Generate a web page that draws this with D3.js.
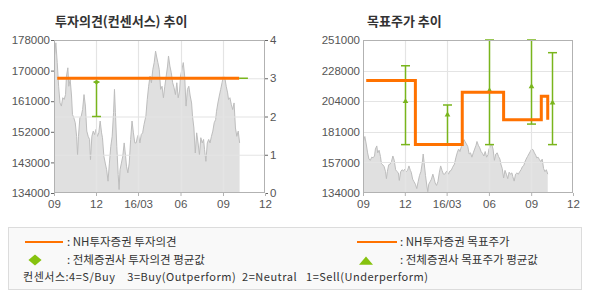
<!DOCTYPE html>
<html><head><meta charset="utf-8">
<script src="https://cdn.jsdelivr.net/npm/d3@7"></script>
<style>body{margin:0;background:#fff} svg{display:block}</style>
</head><body>
<svg id="c" width="590" height="300"></svg>
<script>
// ---------- DATA ----------
const priceDates = ["2015-09-01","2015-09-02","2015-09-05","2015-09-08","2015-09-11","2015-09-14","2015-09-17","2015-09-20","2015-09-23","2015-09-26","2015-09-28","2015-10-01","2015-10-03","2015-10-06","2015-10-09","2015-10-11","2015-10-14","2015-10-17","2015-10-20","2015-10-22","2015-10-24","2015-10-27","2015-10-30","2015-11-02","2015-11-05","2015-11-08","2015-11-11","2015-11-14","2015-11-17","2015-11-19","2015-11-22","2015-11-25","2015-11-28","2015-12-01","2015-12-04","2015-12-07","2015-12-10","2015-12-13","2015-12-15","2015-12-18","2015-12-21","2015-12-24","2015-12-27","2015-12-30","2016-01-02","2016-01-05","2016-01-08","2016-01-10","2016-01-12","2016-01-15","2016-01-18","2016-01-20","2016-01-22","2016-01-25","2016-01-28","2016-01-31","2016-02-03","2016-02-05","2016-02-08","2016-02-11","2016-02-14","2016-02-17","2016-02-20","2016-02-23","2016-02-26","2016-02-29","2016-03-02","2016-03-05","2016-03-08","2016-03-11","2016-03-14","2016-03-18","2016-03-21","2016-03-24","2016-03-27","2016-03-30","2016-04-02","2016-04-05","2016-04-08","2016-04-10","2016-04-13","2016-04-16","2016-04-19","2016-04-22","2016-04-25","2016-04-28","2016-05-01","2016-05-04","2016-05-06","2016-05-09","2016-05-12","2016-05-15","2016-05-18","2016-05-21","2016-05-24","2016-05-27","2016-05-30","2016-06-01","2016-06-04","2016-06-07","2016-06-10","2016-06-13","2016-06-16","2016-06-19","2016-06-22","2016-06-25","2016-06-27","2016-06-30","2016-07-03","2016-07-06","2016-07-09","2016-07-12","2016-07-15","2016-07-18","2016-07-21","2016-07-23","2016-07-26","2016-07-29","2016-08-01","2016-08-04","2016-08-07","2016-08-10","2016-08-13","2016-08-16","2016-08-18","2016-08-21","2016-08-24","2016-08-27","2016-08-30","2016-09-02","2016-09-05","2016-09-08","2016-09-11","2016-09-13","2016-09-16","2016-09-19","2016-09-22","2016-09-25","2016-09-28","2016-10-01","2016-10-04","2016-10-07"];
const prices = [173400,173400,177200,171500,164700,159900,159000,161400,160900,162300,167600,170000,164700,166700,161900,156600,155600,154200,150300,145000,150300,155600,156100,158000,162300,159000,151800,150300,149400,143600,150300,151800,150800,152300,150300,151300,154700,151300,149900,144600,142600,140700,137400,142600,147400,150300,157100,163800,157100,147400,139300,135000,140700,142600,144600,148400,144600,141700,139800,142600,149400,154700,151300,148400,148400,150300,150800,148400,150800,151300,153700,156100,160900,164700,167600,165700,169500,171500,174800,173400,171500,169500,163800,164700,161400,164700,167600,170500,173400,170500,168600,165700,164300,162300,165700,161400,163300,167600,169500,171500,167600,159000,163800,164700,161900,159900,156100,152700,145500,151300,148400,145000,149900,148400,149400,146500,143100,148400,149400,148400,150300,151800,154200,155100,157500,159900,161900,163800,165700,167600,167100,164700,162800,160900,161400,159500,158000,159900,152700,150300,151800,148400];

// NH opinion (left chart)
const opinionDates = ["2015-09-08","2016-10-06"];
const opinionValues = [3,3];
// consensus opinion continuation line
const consLineDates = ["2016-10-06","2016-10-25"];
const consLineValues = [3,3];
// consensus opinion range / average
const consOpDates = ["2015-12-01"];
const consOpMax = [2.9];
const consOpMin = [2];
const consOpAvg = [2.9];

// NH target price (right chart, step)
const targetDates = ["2015-09-08","2015-12-24","2016-04-04","2016-07-03","2016-09-23","2016-10-07"];
const targetValues = [220000,171000,211000,190000,208000,190000];
// consensus target price
const consTpDates = ["2015-12-01","2016-03-01","2016-06-01","2016-09-01","2016-10-16"];
const consTpMax = [231300,201300,251000,251000,241300];
const consTpMin = [171000,171000,171000,186700,171000];
const consTpAvg = [204000,193800,212300,215400,203000];

// ticks
const xTickDates = ["2015-09-01","2015-12-01","2016-03-01","2016-06-01","2016-09-01","2016-12-01"];
const xTickLabels = ["09","12","16/03","06","09","12"];
const leftPriceTickValues = [134000,142800,151600,160400,169200,178000];
const leftPriceTickLabels = ["134000","143000","152000","161000","170000","178000"];
const opinionTickValues = [0,1,2,3,4];
const rightTickValues = [134000,157400,180800,204200,227600,251000];
const rightTickLabels = ["134000","157000","181000","204000","228000","251000"];

// ---------- DRAW ----------
const parse = d3.timeParse("%Y-%m-%d");
const svg = d3.select("#c");
const ORANGE = "#ff7200", GREEN = "#79b51c", GRID = "#e4e4e4", BORDER = "#b2b2b2", LABEL = "#555";
const FONT = "'Liberation Sans', Arial, sans-serif";
const KFONT = "'Noto Sans CJK KR', 'Noto Sans', sans-serif";

const priceData = priceDates.map((d,i)=>({date:parse(d), v:prices[i]}));
const xDomain = [parse(xTickDates[0]), parse(xTickDates[xTickDates.length-1])];

function xAxis(g, x, H) {
  const ax = d3.axisBottom(x).tickValues(xTickDates.map(parse)).tickFormat((d,i)=>xTickLabels[i]).tickSize(3).tickPadding(4);
  const a = g.append("g").attr("transform",`translate(0,${H})`).call(ax);
  a.select(".domain").remove();
  a.selectAll("line").attr("stroke",BORDER);
  a.selectAll("text").attr("font-family",FONT).attr("font-size",11.5).attr("fill",LABEL);
}
function styleAxis(a){
  a.select(".domain").remove();
  a.selectAll("line").attr("stroke","#666");
  a.selectAll("text").attr("font-family",FONT).attr("font-size",11.5).attr("fill",LABEL);
}

// ===== Left chart =====
{
  const L = {x:54, y:40, w:211, h:153};
  const g = svg.append("g").attr("transform",`translate(${L.x},${L.y})`);
  const x = d3.scaleTime().domain(xDomain).range([0,L.w]);
  const yP = d3.scaleLinear().domain([134000,178000]).range([L.h,0]);
  const yO = d3.scaleLinear().domain([0,4]).range([L.h,0]);

  g.append("path").datum(priceData)
    .attr("d", d3.area().x(d=>x(d.date)).y0(L.h).y1(d=>yP(d.v)))
    .attr("fill","#e0e0e0");
  g.append("path").datum(priceData)
    .attr("d", d3.line().x(d=>x(d.date)).y(d=>yP(d.v)))
    .attr("fill","none").attr("stroke","#bdbdbd").attr("stroke-width",1);

  g.append("g").selectAll("line").data(opinionTickValues.slice(1,4)).join("line")
    .attr("x1",0).attr("x2",L.w).attr("y1",d=>yO(d)+0.5).attr("y2",d=>yO(d)+0.5)
    .attr("stroke",GRID).attr("stroke-width",1.2);
  g.append("g").selectAll("line").data(xTickDates.slice(1,5).map(parse)).join("line")
    .attr("x1",d=>Math.round(x(d))+0.5).attr("x2",d=>Math.round(x(d))+0.5).attr("y1",0).attr("y2",L.h)
    .attr("stroke",GRID).attr("stroke-width",1.2);

  g.append("path").datum(opinionDates.map((d,i)=>({date:parse(d), v:opinionValues[i]})))
    .attr("d", d3.line().x(d=>x(d.date)).y(d=>yO(d.v)))
    .attr("stroke",ORANGE).attr("stroke-width",3).attr("fill","none");
  g.append("path").datum(consLineDates.map((d,i)=>({date:parse(d), v:consLineValues[i]})))
    .attr("d", d3.line().x(d=>x(d.date)).y(d=>yO(d.v)))
    .attr("stroke",GREEN).attr("stroke-width",1.5).attr("fill","none");

  consOpDates.forEach((d,i)=>{
    const cx = Math.round(x(parse(d)))+0.5;
    g.append("line").attr("x1",cx).attr("x2",cx).attr("y1",yO(consOpMax[i])).attr("y2",yO(consOpMin[i])).attr("stroke",GREEN).attr("stroke-width",1.5);
    g.append("line").attr("x1",cx-4.5).attr("x2",cx+4.5).attr("y1",yO(consOpMin[i])).attr("y2",yO(consOpMin[i])).attr("stroke",GREEN).attr("stroke-width",1.5);
    g.append("line").attr("x1",cx-3).attr("x2",cx+3).attr("y1",yO(consOpMax[i])).attr("y2",yO(consOpMax[i])).attr("stroke",GREEN).attr("stroke-width",1.5);
    g.append("path").attr("d",d3.symbol(d3.symbolSquare,14)()).attr("transform",`translate(${cx},${yO(consOpAvg[i])}) rotate(45)`).attr("fill",GREEN);
  });

  g.append("rect").attr("x",0.5).attr("y",0.5).attr("width",L.w-1).attr("height",L.h-1).attr("fill","none").attr("stroke",BORDER);

  const aL = g.append("g").call(d3.axisLeft(yP).tickValues(leftPriceTickValues).tickFormat((d,i)=>leftPriceTickLabels[i]).tickSize(3).tickPadding(1));
  styleAxis(aL);
  const aR = g.append("g").attr("transform",`translate(${L.w},0)`).call(d3.axisRight(yO).tickValues(opinionTickValues).tickFormat(d3.format("d")).tickSize(3).tickPadding(2));
  styleAxis(aR);
  xAxis(g, x, L.h);

  svg.append("text").attr("x",55).attr("y",26).text("투자의견(컨센서스) 추이")
    .attr("font-family",KFONT).attr("font-weight","bold").attr("font-size",13).attr("fill","#333");
}

// ===== Right chart =====
{
  const R = {x:363, y:40, w:210, h:153};
  const g = svg.append("g").attr("transform",`translate(${R.x},${R.y})`);
  const x = d3.scaleTime().domain(xDomain).range([0,R.w]);
  const y = d3.scaleLinear().domain([134000,251000]).range([R.h,0]);

  g.append("path").datum(priceData)
    .attr("d", d3.area().x(d=>x(d.date)).y0(R.h).y1(d=>y(d.v)))
    .attr("fill","#e0e0e0");
  g.append("path").datum(priceData)
    .attr("d", d3.line().x(d=>x(d.date)).y(d=>y(d.v)))
    .attr("fill","none").attr("stroke","#bdbdbd").attr("stroke-width",1);

  g.append("g").selectAll("line").data(rightTickValues.slice(1,5)).join("line")
    .attr("x1",0).attr("x2",R.w).attr("y1",d=>Math.round(y(d))+0.5).attr("y2",d=>Math.round(y(d))+0.5)
    .attr("stroke",GRID).attr("stroke-width",1.2);
  g.append("g").selectAll("line").data(xTickDates.slice(1,5).map(parse)).join("line")
    .attr("x1",d=>Math.round(x(d))+0.5).attr("x2",d=>Math.round(x(d))+0.5).attr("y1",0).attr("y2",R.h)
    .attr("stroke",GRID).attr("stroke-width",1.2);

  consTpDates.forEach((d,i)=>{
    const cx = Math.round(x(parse(d)))+0.5;
    g.append("line").attr("x1",cx).attr("x2",cx).attr("y1",y(consTpMax[i])).attr("y2",y(consTpMin[i])).attr("stroke",GREEN).attr("stroke-width",1.5);
    [consTpMax[i], consTpMin[i]].forEach(v=>{
      g.append("line").attr("x1",cx-4.5).attr("x2",cx+4.5).attr("y1",y(v)).attr("y2",y(v)).attr("stroke",GREEN).attr("stroke-width",1.5);
    });
    g.append("path").attr("d",d3.symbol(d3.symbolTriangle,14)()).attr("transform",`translate(${cx},${y(consTpAvg[i])})`).attr("fill",GREEN);
  });

  g.append("path").datum(targetDates.map((d,i)=>({date:parse(d), v:targetValues[i]})))
    .attr("d", d3.line().curve(d3.curveStepAfter).x(d=>x(d.date)).y(d=>y(d.v)))
    .attr("stroke",ORANGE).attr("stroke-width",3).attr("fill","none");

  g.append("rect").attr("x",0.5).attr("y",0.5).attr("width",R.w-1).attr("height",R.h-1).attr("fill","none").attr("stroke",BORDER);

  const aL = g.append("g").call(d3.axisLeft(y).tickValues(rightTickValues).tickFormat((d,i)=>rightTickLabels[i]).tickSize(0).tickPadding(3));
  styleAxis(aL);
  xAxis(g, x, R.h);

  svg.append("text").attr("x",367).attr("y",26).text("목표주가 추이")
    .attr("font-family",KFONT).attr("font-weight","bold").attr("font-size",13).attr("fill","#333");
}

// ===== Legend =====
{
  const g = svg.append("g");
  g.append("rect").attr("x",8.5).attr("y",227.5).attr("width",573).attr("height",62).attr("fill","#f9f9f9").attr("stroke","#dcdcdc");
  const T = (x,y,s)=>g.append("text").attr("x",x).attr("y",y).text(s).attr("font-family",KFONT).attr("font-size",11.5).attr("fill","#333");
  g.append("line").attr("x1",25).attr("x2",63).attr("y1",242).attr("y2",242).attr("stroke",ORANGE).attr("stroke-width",2);
  T(67,246,": NH투자증권  투자의견");
  g.append("line").attr("x1",357).attr("x2",397).attr("y1",242).attr("y2",242).attr("stroke",ORANGE).attr("stroke-width",2);
  T(400,246,": NH투자증권  목표주가");
  g.append("path").attr("d",d3.symbol(d3.symbolSquare,60)()).attr("transform","translate(35,260) scale(1.2,1) rotate(45)").attr("fill","#86c20e");
  T(67,264,":  전체증권사  투자의견  평균값");
  g.append("path").attr("d",d3.symbol(d3.symbolTriangle,50)()).attr("transform","translate(366,262) scale(1.3,0.9)").attr("fill","#86c20e");
  T(400,264,": 전체증권사  목표주가  평균값");
  g.append("text").attr("x",23).attr("y",281).attr("xml:space","preserve").style("white-space","pre")
    .attr("textLength",405).attr("lengthAdjust","spacing")
    .text("컨센서스:4=S/Buy    3=Buy(Outperform)  2=Neutral   1=Sell(Underperform)")
    .attr("font-family",KFONT).attr("font-size",11).attr("fill","#333");
}
</script>
</body></html>
